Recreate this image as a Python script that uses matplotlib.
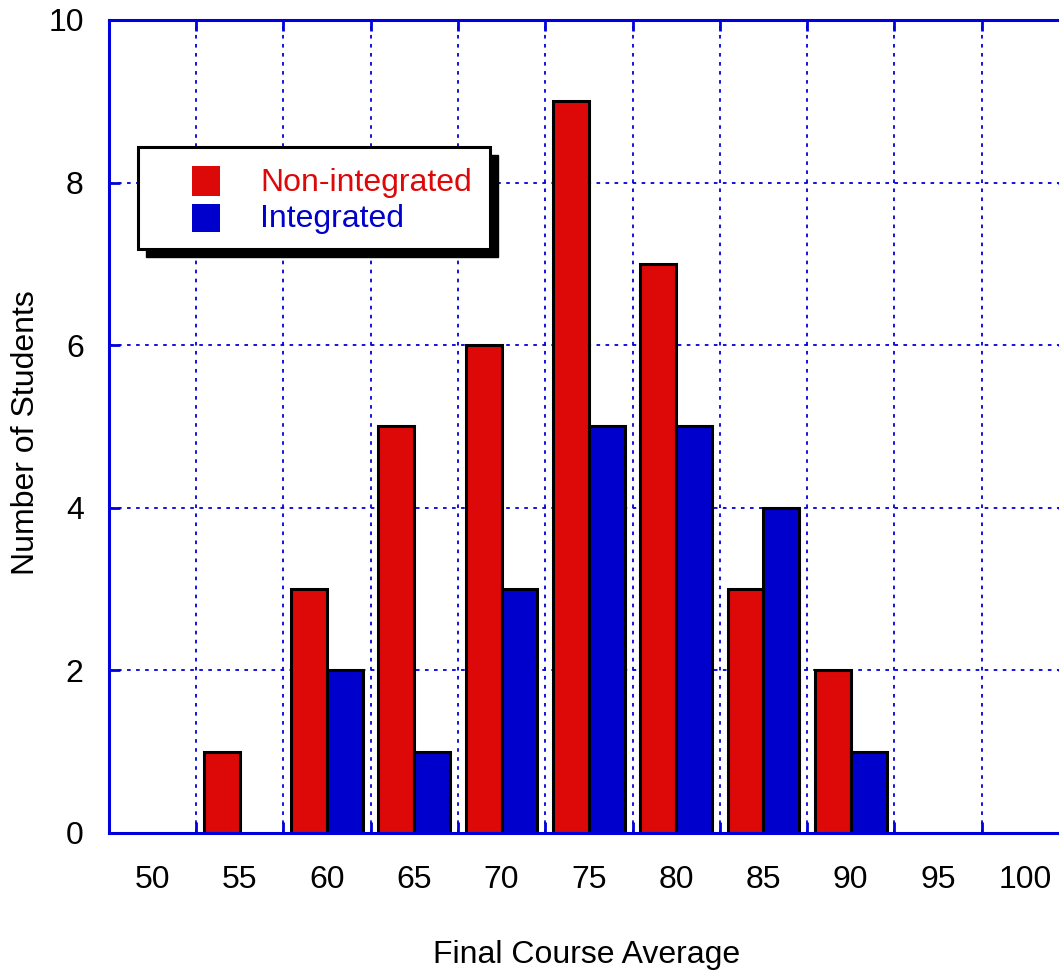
import matplotlib.pyplot as plt
from matplotlib.patches import Rectangle

plt.rcParams['font.family'] = ['Liberation Sans', 'DejaVu Sans']

# data
grades = [50, 55, 60, 65, 70, 75, 80, 85, 90, 95, 100]
non_integrated = [0, 1, 3, 5, 6, 9, 7, 3, 2, 0, 0]
integrated = [0, 0, 2, 1, 3, 5, 5, 4, 1, 0, 0]

red = '#dd0808'
blue = '#0000cc'
frame = '#0000dd'
W, H = 1059, 973
fs = 23

fig = plt.figure(figsize=(W / 100, H / 100), dpi=100)
ax = fig.add_axes([108.7 / W, 140 / H, 960.3 / W, 813 / H])

pos = list(range(len(grades)))
bw = 0.41
for i, (a, b) in enumerate(zip(non_integrated, integrated)):
    if a > 0:
        ax.bar(i - bw, a, width=bw, align='edge', color=red, edgecolor='black', linewidth=2.2, zorder=3)
    if b > 0:
        ax.bar(i, b, width=bw, align='edge', color=blue, edgecolor='black', linewidth=2.2, zorder=3)

ax.set_xlim(-0.5, 10.5)
ax.set_ylim(0, 10)
ax.set_xticks(pos)
ax.set_xticklabels([str(g) for g in grades])
ax.set_xticks([p + 0.5 for p in pos[:-1]], minor=True)
ax.set_yticks([0, 2, 4, 6, 8, 10])

ax.tick_params(axis='x', which='major', length=0, pad=23, labelsize=fs)
ax.tick_params(axis='x', which='minor', direction='in', length=8, width=2, color=frame, top=True)
ax.tick_params(axis='y', which='major', direction='in', length=8, width=2, color=frame, right=True, labelsize=fs, pad=18)

ax.grid(True, axis='x', which='minor', color=frame, linestyle=(0, (2, 3)), linewidth=1.3, zorder=1)
ax.grid(True, axis='y', which='major', color=frame, linestyle=(0, (2, 3)), linewidth=1.3, zorder=1)
ax.set_axisbelow(True)
for s in ax.spines.values():
    s.set_color(frame)
    s.set_linewidth(2.2)
    s.set_zorder(4)


def fx(x):
    return x / W


def fy(y):
    return 1 - y / H


fig.text(fx(587), fy(955), 'Final Course Average', fontsize=fs, ha='center', va='center')
fig.text(fx(26), fy(433), 'Number of Students', fontsize=fs, ha='center', va='center', rotation=90)

# legend box with drop shadow, drawn in figure pixels
fig.patches.append(Rectangle((fx(146), fy(257)), fx(352), 102 / H, transform=fig.transFigure,
                             facecolor='black', edgecolor='black', zorder=5))
fig.patches.append(Rectangle((fx(138), fy(249)), fx(352), 102 / H, transform=fig.transFigure,
                             facecolor='white', edgecolor='black', linewidth=2.2, zorder=6))
fig.patches.append(Rectangle((fx(192), fy(196)), fx(28), 30 / H, transform=fig.transFigure,
                             facecolor=red, edgecolor='none', zorder=7))
fig.patches.append(Rectangle((fx(192), fy(232)), fx(28), 28 / H, transform=fig.transFigure,
                             facecolor=blue, edgecolor='none', zorder=7))
fig.text(fx(260), fy(183), 'Non-integrated', color=red, fontsize=fs, va='center', ha='left', zorder=8)
fig.text(fx(260), fy(219), 'Integrated', color=blue, fontsize=fs, va='center', ha='left', zorder=8)

fig.savefig('out.png', dpi=100)
